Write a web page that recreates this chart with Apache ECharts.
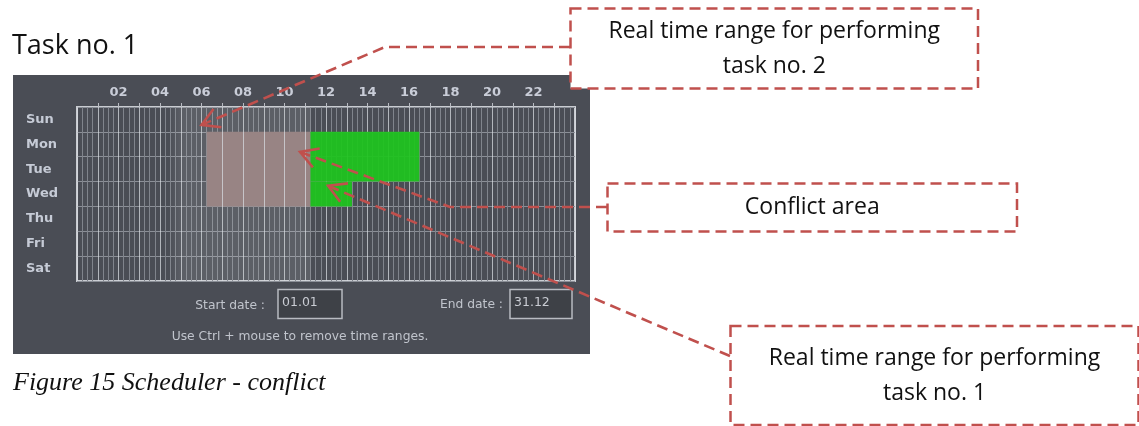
<!DOCTYPE html>
<html><head><meta charset="utf-8">
<script src="https://cdn.jsdelivr.net/npm/echarts@6/dist/echarts.min.js"></script>
<style>html,body{margin:0;padding:0;background:#fff}#c{width:1139px;height:426px}</style>
</head><body><div id="c"></div>
<script>
// ---- data ----
const days = ['Sun', 'Mon', 'Tue', 'Wed', 'Thu', 'Fri', 'Sat'];
const hourTickValues = [2, 4, 6, 8, 10, 12, 14, 16, 18, 20, 22];
const hourTickLabels = ['02', '04', '06', '08', '10', '12', '14', '16', '18', '20', '22'];
// [startHour, endHour, firstDay, lastDay]
const task2Range = [[4.5, 11.25, 'Sun', 'Sat']];
const conflictRange = [[6.25, 11.25, 'Mon', 'Wed']];
const task1Ranges = [[11.25, 16.5, 'Mon', 'Tue'], [11.25, 13.25, 'Wed', 'Wed']];
const startDate = '01.01';
const endDate = '31.12';
const titleText = 'Task no. 1';
const captionText = 'Figure 15 Scheduler - conflict';
const hintText = 'Use Ctrl + mouse to remove time ranges.';
const calloutTexts = {
  task2: 'Real time range for performing\ntask no. 2',
  conflict: 'Conflict area',
  task1: 'Real time range for performing\ntask no. 1'
};
// arrow anchors in data space: [hour, dayIndex]
const anchorTask2 = [6.0, 0.22];
const anchorConflict = [10.75, 1.31];
const anchorTask1 = [12.1, 2.67];

// ---- styles ----
const PANEL = '#4a4d55';
const RED = '#c0504d';
const UI_TEXT = '#c0c4cc';

function rangeSeries(name, list, fill, z, opts) {
  opts = opts || {};
  return {
    type: 'custom', name: name, z: z, xAxisIndex: 0, yAxisIndex: 0, silent: true,
    data: list.map(r => [r[0], r[1], days.indexOf(r[2]), days.indexOf(r[3])]),
    encode: { x: [0, 1], y: [2, 3] },
    renderItem: function (params, api) {
      const a = api.coord([api.value(0), api.value(2)]);
      const b = api.coord([api.value(1), api.value(3)]);
      const bh = api.size([0, 1])[1];
      const w = b[0] - a[0];
      let f = fill;
      if (opts.fade) {
        const o = Math.min(0.99, 12 / w);
        f = { type: 'linear', x: 0, y: 0, x2: 1, y2: 0, colorStops: [
          { offset: 0, color: 'rgba(255,255,255,0.02)' },
          { offset: o, color: fill },
          { offset: 1, color: fill }] };
      }
      return { type: 'rect', shape: { x: a[0], y: a[1] - bh / 2, width: w, height: b[1] - a[1] + bh },
        style: { fill: f, opacity: opts.opacity == null ? 1 : opts.opacity } };
    }
  };
}

const chart = echarts.init(document.getElementById('c'), null, { renderer: 'canvas' });

const option = {
  animation: false,
  backgroundColor: '#ffffff',
  grid: { left: 77, top: 107, width: 498, height: 174, show: true, backgroundColor: PANEL,
    borderColor: '#c9ccd1', borderWidth: 2, containLabel: false },
  xAxis: [
    { type: 'value', position: 'top', min: 0, max: 24, interval: 1, z: 1,
      axisLine: { show: false },
      axisTick: { show: true, length: 4, lineStyle: { color: '#b9bcc3' } },
      axisLabel: { color: '#c9cdd8', fontFamily: 'DejaVu Sans', fontWeight: 'bold', fontSize: 13, margin: 8,
        showMinLabel: false, showMaxLabel: false,
        formatter: function (v) { const i = hourTickValues.indexOf(v); return i >= 0 ? hourTickLabels[i] : ''; } },
      splitLine: { show: false },
      minorTick: { show: false, splitNumber: 4 },
      minorSplitLine: { show: true, lineStyle: { color: '#80848c', width: 1 } } },
    { type: 'value', position: 'bottom', min: 0, max: 24, interval: 1, z: 4,
      axisLine: { show: false }, axisTick: { show: false }, axisLabel: { show: false },
      splitLine: { show: true, lineStyle: { color: 'rgba(214,217,223,0.75)', width: 1 } } }
  ],
  yAxis: { type: 'category', data: days, inverse: true, z: 1,
    axisLine: { show: false }, axisTick: { show: false },
    axisLabel: { color: '#c6cbd6', fontFamily: 'DejaVu Sans', fontWeight: 'bold', fontSize: 13, align: 'left', margin: 51, interval: 0 },
    splitLine: { show: true, interval: 0, lineStyle: { color: '#8b8f97', width: 1 } } },
  series: [
    rangeSeries('task2', task2Range, 'rgba(255,255,255,0.10)', 2, { fade: true }),
    rangeSeries('conflict', conflictRange, '#988484', 3),
    rangeSeries('task1', task1Ranges, '#1fc41f', 5, { opacity: 0.94 })
  ]
};
chart.setOption(option);

function px(p) {
  const a = chart.convertToPixel({ xAxisIndex: 0, yAxisIndex: 0 }, [p[0], 0]);
  const b = chart.convertToPixel({ xAxisIndex: 0, yAxisIndex: 0 }, [p[0], 1]);
  return [a[0], a[1] + (b[1] - a[1]) * p[1]];
}
function arrowHead(tip, from, len, ang) {
  const t = Math.atan2(from[1] - tip[1], from[0] - tip[0]);
  return [[tip[0] + len * Math.cos(t - ang), tip[1] + len * Math.sin(t - ang)], tip,
          [tip[0] + len * Math.cos(t + ang), tip[1] + len * Math.sin(t + ang)]];
}
function callout(points) {
  const tip = points[points.length - 1];
  const prev = points[points.length - 2];
  return [
    { type: 'polyline', z: 100, shape: { points: points }, style: { stroke: RED, lineWidth: 2.6, lineDash: [11, 6], fill: null } },
    { type: 'polyline', z: 100, shape: { points: arrowHead(tip, prev, 20, Math.PI / 6) }, style: { stroke: RED, lineWidth: 2.6, fill: null } }
  ];
}
function box(x, y, w, h, text) {
  return [
    { type: 'rect', z: 90, shape: { x: x, y: y, width: w, height: h },
      style: { fill: '#ffffff', stroke: RED, lineWidth: 2.5, lineDash: [11, 6] } },
    { type: 'text', z: 91, x: x + w / 2, y: y + h / 2,
      style: { text: text, fill: '#111111', font: '23px "Open Sans"', align: 'center', verticalAlign: 'middle', lineHeight: 35 } }
  ];
}

const tip1 = px(anchorTask2), tip2 = px(anchorConflict), tip3 = px(anchorTask1);
const uiFont = '12.3px "DejaVu Sans"';

const graphics = [
  { type: 'rect', z: -10, shape: { x: 13, y: 75, width: 577, height: 279 }, style: { fill: PANEL } },
  { type: 'text', z: 50, x: 12, y: 46, style: { text: titleText, fill: '#111111', font: '27px "Open Sans"', verticalAlign: 'middle' } },
  { type: 'text', z: 50, x: 13, y: 383, style: { text: captionText, fill: '#111111', font: 'italic 26px "Liberation Serif"', verticalAlign: 'middle' } },
  { type: 'text', z: 50, x: 265, y: 306, style: { text: 'Start date :', fill: UI_TEXT, font: uiFont, align: 'right', verticalAlign: 'middle' } },
  { type: 'rect', z: 50, shape: { x: 278, y: 289.5, width: 64, height: 29 }, style: { fill: '#3e4147', stroke: '#b8bbc1', lineWidth: 1.5 } },
  { type: 'text', z: 51, x: 282, y: 303, style: { text: startDate, fill: '#c9ccd3', font: '12.5px "DejaVu Sans"', verticalAlign: 'middle' } },
  { type: 'text', z: 50, x: 503, y: 305, style: { text: 'End date :', fill: UI_TEXT, font: uiFont, align: 'right', verticalAlign: 'middle' } },
  { type: 'rect', z: 50, shape: { x: 510, y: 289.5, width: 62, height: 29 }, style: { fill: '#3e4147', stroke: '#b8bbc1', lineWidth: 1.5 } },
  { type: 'text', z: 51, x: 514, y: 303, style: { text: endDate, fill: '#c9ccd3', font: '12.5px "DejaVu Sans"', verticalAlign: 'middle' } },
  { type: 'text', z: 50, x: 300, y: 337, style: { text: hintText, fill: UI_TEXT, font: uiFont, align: 'center', verticalAlign: 'middle' } }
]
.concat(box(570.5, 8.5, 407.5, 80, calloutTexts.task2))
.concat(box(607.5, 183.5, 409.5, 48, calloutTexts.conflict))
.concat(box(730.5, 326, 408, 99, calloutTexts.task1))
.concat(callout([[570, 47], [385, 47], tip1]))
.concat(callout([[607, 207], [450, 207], tip2]))
.concat(callout([[730, 356], tip3]));

chart.setOption({ graphic: { elements: graphics } });
</script>
</body></html>
